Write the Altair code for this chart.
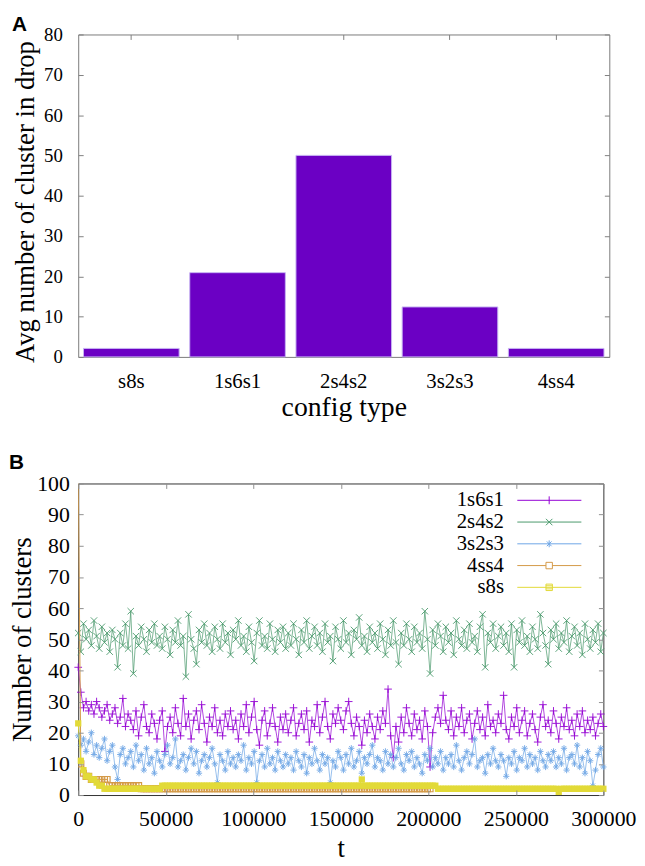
import altair as alt
import pandas as pd

# ---------------- Panel A data ----------------
configs = ["s8s", "1s6s1", "2s4s2", "3s2s3", "4ss4"]
avg_clusters = [2.1, 20.9, 50.0, 12.4, 2.1]
a_y_ticks = [0, 10, 20, 30, 40, 50, 60, 70, 80]

# ---------------- Panel B data ----------------
series_names = ["1s6s1", "2s4s2", "3s2s3", "4ss4", "s8s"]
t_samples = list(range(0, 300001, 1500))

n_1s6s1 = [
    41, 33, 28, 30, 27, 29, 26, 30, 28, 25, 27, 29, 24, 26, 28, 23, 25, 31, 22, 26,
    24, 21, 27, 19, 25, 29, 22, 20, 26, 23, 18, 24, 27, 14, 22, 25, 20, 28, 23, 19,
    31, 22, 26, 18, 24, 27, 21, 29, 23, 17, 25, 22, 28, 20, 24, 19, 26, 22, 27, 21,
    24, 18, 26, 22, 29, 20, 25, 30, 21, 16, 24, 27, 19, 23, 28, 22, 17, 25, 21, 26,
    20, 24, 28, 19, 23, 26, 21, 27, 17, 24, 22, 29, 20, 25, 30, 22, 18, 26, 23, 28,
    24, 21, 27, 30, 23, 19, 25, 22, 16, 24, 20, 26, 22, 18, 25, 21, 27, 23, 34, 19,
    12, 22, 17, 25, 20, 28, 23, 19, 26, 21, 24, 18, 27, 22, 9, 20, 25, 28, 23, 32,
    24, 21, 27, 19, 25, 22, 28, 20, 24, 26, 18, 23, 27, 21, 25, 19, 29, 22, 24, 20,
    26, 23, 32, 21, 18, 25, 22, 28, 20, 24, 27, 19, 23, 26, 21, 17, 25, 29, 22, 24,
    20, 27, 23, 18, 25, 22, 28, 21, 24, 19, 26, 22, 27, 20, 24, 21, 25, 19, 23, 26, 22,
]
n_2s4s2 = [
    52, 46, 55, 50, 53, 48, 56, 51, 47, 54, 49, 52, 46, 53, 50, 41, 52, 48, 55, 47,
    59, 39, 51, 48, 54, 50, 46, 53, 49, 55, 48, 51, 47, 54, 50, 45, 53, 49, 56, 48,
    51, 38, 58, 50, 47, 42, 53, 49, 55, 48, 52, 46, 54, 50, 47, 55, 49, 52, 45, 53,
    50, 56, 48, 51, 46, 54, 49, 43, 52, 56, 48, 51, 47, 55, 50, 46, 53, 49, 54, 47,
    52, 48, 55, 50, 45, 53, 49, 56, 47, 51, 54, 48, 52, 46, 55, 49, 51, 43, 54, 50,
    47, 56, 49, 52, 45, 53, 50, 57, 48, 51, 46, 54, 49, 52, 47, 55, 50, 45, 53, 48,
    56, 49, 42, 52, 48, 55, 50, 46, 54, 49, 52, 47, 59, 50, 39, 53, 48, 55, 51, 46,
    54, 49, 52, 45, 56, 50, 48, 53, 47, 55, 49, 51, 46, 54, 58, 41, 52, 49, 55, 47,
    51, 54, 48, 52, 46, 55, 41, 53, 49, 56, 48, 51, 46, 54, 50, 47, 58, 52, 48, 42,
    53, 50, 55, 47, 52, 49, 56, 46, 51, 54, 48, 52, 45, 55, 50, 47, 53, 49, 55, 46, 52,
]
n_3s2s3 = [
    19, 16, 18, 14, 17, 20, 13, 16, 12, 15, 18, 11, 14, 16, 9, 5, 13, 15, 10, 12,
    14, 9, 16, 11, 13, 8, 15, 10, 12, 7, 14, 11, 9, 13, 16, 10, 12, 18, 9, 11,
    13, 8, 12, 15, 10, 14, 7, 11, 13, 9, 12, 15, 10, 4, 13, 11, 8, 14, 10, 12,
    9, 13, 11, 16, 8, 12, 10, 14, 4, 11, 13, 9, 15, 10, 12, 8, 14, 11, 9, 13,
    10, 12, 8, 14, 11, 9, 13, 7, 12, 10, 15, 11, 8, 13, 10, 12, 4, 11, 9, 14,
    12, 8, 13, 10, 15, 9, 11, 14, 7, 12, 10, 13, 16, 9, 12, 11, 8, 14, 10, 13,
    9, 12, 15, 10, 8, 13, 11, 14, 9, 12, 10, 7, 13, 11, 15, 9, 12, 10, 14, 8,
    12, 10, 13, 9, 16, 11, 8, 12, 14, 10, 13, 18, 9, 11, 12, 7, 13, 10, 15, 11,
    9, 13, 11, 6, 12, 10, 14, 8, 12, 11, 15, 9, 13, 10, 12, 8, 14, 11, 9, 13,
    11, 14, 9, 12, 10, 15, 8, 12, 13, 10, 16, 9, 12, 7, 14, 11, 3, 8, 13, 15, 9,
]
# 4ss4 run ends at t = 201000; its first value is off the top of the scale
n_4ss4 = [104, 10, 7, 6, 6] + [5] * 7 + [3] * 12 + [2] * 111
n_s8s = ([23, 11, 8, 6, 6, 5, 5, 4, 3, 3] + [2] * 22 + [3] * 76 + [5] + [3] * 28
         + [2] * 46 + [1] + [2] * 17)

b_y_ticks = [0, 10, 20, 30, 40, 50, 60, 70, 80, 90, 100]
b_x_ticks = [0, 50000, 100000, 150000, 200000, 250000, 300000]

# ---------------- styles ----------------
SERIF = "Liberation Serif"
SANS = "Liberation Sans"
bar_color = "#6b00c4"
series_colors = ["#9400d3", "#4a9a6c", "#6ea6e6", "#d49a48", "#e2da38"]
color_of = dict(zip(series_names, series_colors))
P_PLUS = "M-1,0H1M0,-1V1"
P_X = "M-1,-1L1,1M-1,1L1,-1"
P_STAR = "M-1,0H1M0,-1V1M-0.7,-0.7L0.7,0.7M-0.7,0.7L0.7,-0.7"
# legend samples: a line with the marker in its middle, drawn right of the label
legend_paths = [
    "M2.33,0H8.5M5.4,-0.38V0.38",
    "M2.33,0H8.5M5.09,-0.31L5.71,0.31M5.09,0.31L5.71,-0.31",
    "M2.33,0H8.5M5.4,-0.33V0.33M5.17,-0.23L5.63,0.23M5.17,0.23L5.63,-0.23",
    "M2.33,0H5.09M5.71,0H8.5M5.09,-0.31H5.71V0.31H5.09Z",
    "M2.33,0H8.5M5.09,-0.31H5.71V0.31H5.09ZM5.09,-0.15H5.71M5.09,0.15H5.71",
]


def text_axis(orient, title, label_size, title_size, label_pad, title_pad,
              values=None, fmt=None, title_y=None):
    kw = dict(orient=orient, title=title, labelFont=SERIF, labelFontSize=label_size,
              labelColor="black", titleFont=SERIF, titleFontSize=title_size,
              titleFontWeight="normal", titleColor="black", ticks=False, tickSize=0,
              domain=False, grid=False, labelPadding=label_pad, titlePadding=title_pad,
              labelAngle=0, labelFlush=False, labelOverlap=False)
    if values is not None:
        kw["values"] = values
    if fmt is not None:
        kw["format"] = fmt
    if title_y is not None:
        kw["titleY"] = title_y
    return alt.Axis(**kw)


def tick_axis(orient, offset, color, z, values=None):
    kw = dict(orient=orient, offset=offset, labels=False, domain=False, grid=False,
              title=None, ticks=True, tickSize=5, tickColor=color, tickWidth=1,
              zindex=z)
    if values is not None:
        kw["values"] = values
    return alt.Axis(**kw)


# ---------------- Panel A ----------------
WA, HA = 537, 326
df_a = pd.DataFrame({"config": configs, "avg": avg_clusters})
xa_scale = alt.Scale(domain=configs, paddingInner=0.1, paddingOuter=0.05)
ya_scale = alt.Scale(domain=[0, 80], nice=False)


def xa(axis):
    return alt.X("config:N", sort=configs, scale=xa_scale, axis=axis)


def ya(axis):
    return alt.Y("avg:Q", scale=ya_scale, axis=axis)


base_a = alt.Chart(df_a)
bars = base_a.mark_bar(color=bar_color, stroke="#c6b3f2", strokeWidth=1).encode(
    x=xa(text_axis("bottom", "config type", 21, 28, 14, 2)),
    y=ya(text_axis("left", "Avg number of cluster in drop", 19, 27, 16, 4,
                   values=a_y_ticks, title_y=HA / 2 + 6)),
)
ticks_a1 = base_a.mark_bar(opacity=0).encode(
    x=xa(tick_axis("top", -HA, "#808080", 0)),
    y=ya(tick_axis("right", -WA, "#808080", 0, a_y_ticks)),
)
ticks_a2 = base_a.mark_bar(opacity=0).encode(
    x=xa(tick_axis("bottom", -HA, "#808080", 0)),
    y=ya(tick_axis("left", -WA, "#808080", 0, a_y_ticks)),
)
panel_a = alt.layer(bars, ticks_a1, ticks_a2).resolve_axis(
    x="independent", y="independent"
).properties(
    width=WA, height=HA,
    title=alt.TitleParams("A", anchor="start", frame="bounds", font=SANS, fontSize=21,
                          fontWeight="bold", color="black", offset=-9),
    view=alt.ViewBackground(stroke="#7a7a7a", strokeWidth=1),
)

# ---------------- Panel B ----------------
WB, HB = 531, 315
xb_scale = alt.Scale(domain=[0, 300000], nice=False, zero=False)
yb_scale = alt.Scale(domain=[0, 100], nice=False)


def xb(axis):
    return alt.X("t:Q", scale=xb_scale, axis=axis)


def yb(axis):
    return alt.Y("n:Q", scale=yb_scale, axis=axis)


axis_sets = [
    (text_axis("bottom", "t", 22, 27, 14, 6, values=b_x_ticks, fmt="d"),
     text_axis("left", "Number of clusters", 22, 27, 9, 0, values=b_y_ticks)),
    (tick_axis("top", -HB, "#909090", 1, b_x_ticks),
     tick_axis("right", -WB, "#909090", 1, b_y_ticks)),
    (tick_axis("bottom", -HB, "#909090", 1, b_x_ticks),
     tick_axis("left", -WB, "#909090", 1, b_y_ticks)),
]

layers = []


def add_layer(chart):
    k = len(layers)
    if k < len(axis_sets):
        ax_x, ax_y = axis_sets[k]
    else:
        ax_x, ax_y = None, None
    layers.append(chart.encode(x=xb(ax_x), y=yb(ax_y)))


noisy = [("1s6s1", n_1s6s1, P_PLUS, 60), ("2s4s2", n_2s4s2, P_X, 42),
         ("3s2s3", n_3s2s3, P_STAR, 40)]
for name, arr, path, size in noisy:
    d = pd.DataFrame({"t": t_samples, "n": arr})
    c = color_of[name]
    add_layer(alt.Chart(d).mark_line(color=c, strokeWidth=0.8, opacity=0.9))
    add_layer(alt.Chart(d).mark_point(shape=path, size=size, filled=False, color=c,
                                      strokeWidth=1, opacity=0.9))

d4 = pd.DataFrame({"t": t_samples[:len(n_4ss4)], "n": n_4ss4})
add_layer(alt.Chart(d4).mark_line(color=color_of["4ss4"], strokeWidth=1, opacity=1,
                                  clip=True))
add_layer(alt.Chart(d4).mark_point(shape="square", size=36, filled=False,
                                   color=color_of["4ss4"], strokeWidth=1.2, opacity=1,
                                   clip=True))

d8 = pd.DataFrame({"t": t_samples, "n": n_s8s})
add_layer(alt.Chart(d8).mark_line(color=color_of["s8s"], strokeWidth=1, opacity=1))
add_layer(alt.Chart(d8).mark_point(shape="square", size=40, filled=True,
                                   color=color_of["s8s"], opacity=1))

legend_params = alt.Legend(
    title=None, orient="none", legendX=408.5, legendY=6, labelFont=SERIF,
    labelFontSize=21, labelColor="black", labelAlign="right", labelOffset=0,
    symbolOffset=0, symbolSize=441, symbolStrokeWidth=1, rowPadding=1,
    padding=0,
)
legend_df = pd.DataFrame({"series": series_names})
legend_layer = alt.Chart(legend_df).transform_filter("false").mark_point(
    filled=False, opacity=1
).encode(
    color=alt.Color("series:N", scale=alt.Scale(domain=series_names, range=series_colors),
                    legend=legend_params),
    shape=alt.Shape("series:N", scale=alt.Scale(domain=series_names, range=legend_paths),
                    legend=legend_params),
)
layers.append(legend_layer)

panel_b = alt.layer(*layers).resolve_axis(
    x="independent", y="independent"
).properties(
    width=WB, height=HB,
    title=alt.TitleParams("B", anchor="start", frame="bounds", font=SANS, fontSize=21,
                          fontWeight="bold", color="black", offset=0),
    view=alt.ViewBackground(stroke="#333333", strokeWidth=1),
)

chart = alt.concat(panel_a, panel_b, columns=1, spacing=29).resolve_scale(
    color="independent", shape="independent"
).properties(padding=0).configure(background="white")

chart.save("out.html", embed_options={"renderer": "svg", "actions": False})
